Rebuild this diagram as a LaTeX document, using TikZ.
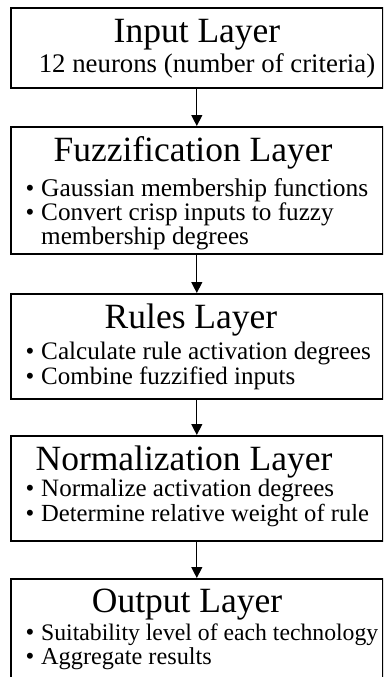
\documentclass[tikz,border=0pt]{standalone}
\usepackage{fontspec}
\setmainfont{Liberation Serif}
\usetikzlibrary{arrows.meta}
\tikzset{
  layerbox/.style={draw=black, line width=1.6pt, minimum width=372pt, inner sep=0pt, anchor=north west, fill=white},
  titletext/.style={inner sep=0pt, anchor=base, font=\fontsize{35.5}{40}\selectfont},
  bodytext/.style={inner sep=0pt, anchor=base west, font=\fontsize{#1}{28}\selectfont},
  bodytext/.default=25.2,
  subtext/.style={inner sep=0pt, anchor=base, font=\fontsize{26.8}{30}\selectfont},
  bulletdot/.style={inner sep=0pt, anchor=base, font=\fontsize{25}{28}\selectfont},
  flowarrow/.style={line width=1.3pt, -{Triangle[length=11pt,width=11pt]}}
}
\begin{document}
\begin{tikzpicture}[x=1pt,y=-1pt]
\useasboundingbox (0,0) rectangle (383,677);
\clip (0,0) rectangle (383,677);
\fill[white] (0,0) rectangle (383,677);
% boxes
\node[layerbox, minimum height=80pt] (b1) at (10,7) {};
\node[layerbox, minimum height=127pt] (b2) at (10,126) {};
\node[layerbox, minimum height=105pt] (b3) at (10,293) {};
\node[layerbox, minimum height=105pt] (b4) at (10,435) {};
\node[layerbox, minimum height=120pt] (b5) at (10,578) {};
% arrows
\draw[flowarrow] (b1.south) -- (b2.north);
\draw[flowarrow] (b2.south) -- (b3.north);
\draw[flowarrow] (b3.south) -- (b4.north);
\draw[flowarrow] (b4.south) -- (b5.north);
% box 1
\node[titletext] (t1) at (197,43) {Input Layer};
\node[subtext] (s1) at (207,73) {12 neurons (number of criteria)};
% box 2
\node[titletext] (t2) at (193,161) {Fuzzification Layer};
\node[bulletdot] (d21) at (30,196) {\textbullet};
\node[bodytext=25.5] (i21) at (41,196) {Gaussian membership functions};
\node[bulletdot] (d22) at (30,220) {\textbullet};
\node[bodytext=25.2] (i22) at (41,220) {Convert crisp inputs to fuzzy};
\node[bodytext=25.2] (i23) at (41,244) {membership degrees};
% box 3
\node[titletext] (t3) at (191,328) {Rules Layer};
\node[bulletdot] (d31) at (30,359) {\textbullet};
\node[bodytext=25.2] (i31) at (41,359) {Calculate rule activation degrees};
\node[bulletdot] (d32) at (30,384) {\textbullet};
\node[bodytext=25] (i32) at (41,384) {Combine fuzzified inputs};
% box 4
\node[titletext] (t4) at (184,470) {Normalization Layer};
\node[bulletdot] (d41) at (30,496) {\textbullet};
\node[bodytext=25] (i41) at (41,496) {Normalize activation degrees};
\node[bulletdot] (d42) at (30,521) {\textbullet};
\node[bodytext=24.6] (i42) at (41,521) {Determine relative weight of rule};
% box 5
\node[titletext] (t5) at (187,612) {Output Layer};
\node[bulletdot] (d51) at (30,640) {\textbullet};
\node[bodytext=23.7] (i51) at (41,640) {Suitability level of each technology};
\node[bulletdot] (d52) at (30,664) {\textbullet};
\node[bodytext=24.3] (i52) at (41,664) {Aggregate results};
\end{tikzpicture}
\end{document}
